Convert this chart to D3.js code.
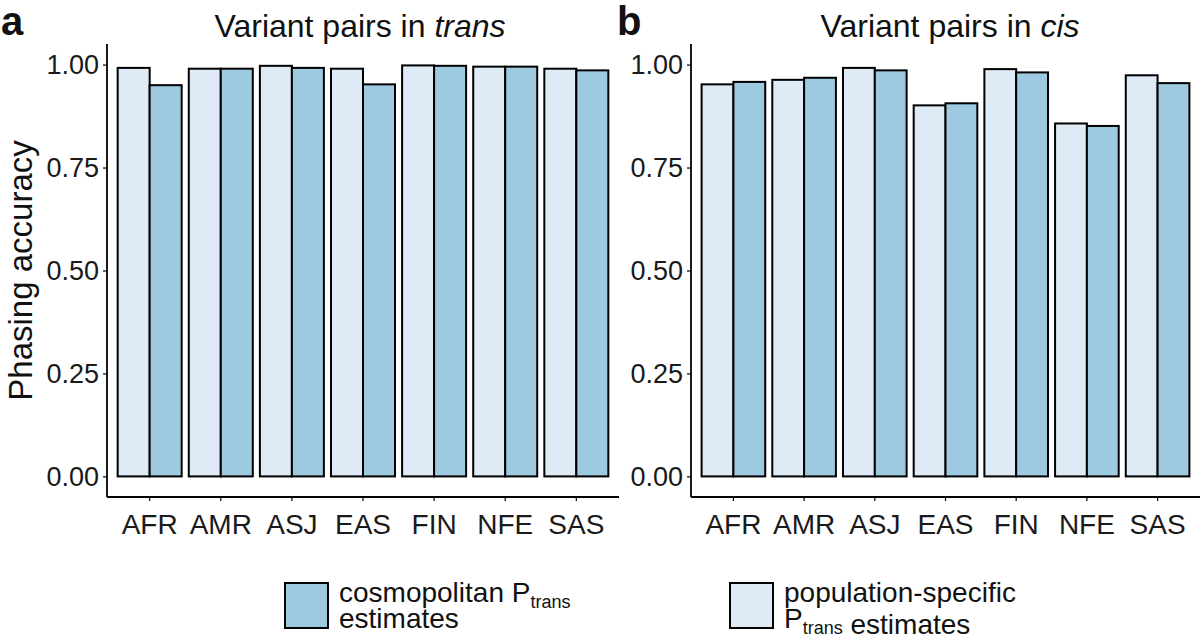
<!DOCTYPE html>
<html>
<head>
<meta charset="utf-8">
<script src="https://cdn.jsdelivr.net/npm/d3@7"></script>
<style>
  html, body { margin: 0; padding: 0; background: #fff; }
  svg { display: block; font-family: "Liberation Sans", Arial, sans-serif; }
</style>
</head>
<body>
<svg id="chart" width="1200" height="642"></svg>
<script>
// ---- data ----
const categories = ["AFR", "AMR", "ASJ", "EAS", "FIN", "NFE", "SAS"];
const series = ["population-specific", "cosmopolitan"];
const transPopSpecific = [0.992, 0.990, 0.997, 0.990, 0.998, 0.995, 0.990];
const transCosmopolitan = [0.950, 0.990, 0.992, 0.952, 0.997, 0.995, 0.986];
const cisPopSpecific = [0.952, 0.963, 0.992, 0.901, 0.989, 0.857, 0.974];
const cisCosmopolitan = [0.958, 0.968, 0.986, 0.906, 0.981, 0.851, 0.955];
const yTicks = [0, 0.25, 0.5, 0.75, 1.0];
const yTickLabels = ["0.00", "0.25", "0.50", "0.75", "1.00"];

const colors = { "population-specific": "#deebf7", "cosmopolitan": "#9ecae1" };

const svg = d3.select("#chart");

const panels = [
  { label: "a", title: "Variant pairs in ", italic: "trans", x0: 107, x1: 619, titleX: 360,
    pop: transPopSpecific, cos: transCosmopolitan },
  { label: "b", title: "Variant pairs in ", italic: "cis", x0: 691, x1: 1200, titleX: 950,
    pop: cisPopSpecific, cos: cisCosmopolitan }
];

const yBottom = 497, yTop = 44;
const y = d3.scaleLinear().domain([-0.05, 1.05]).range([yBottom, yTop]);

panels.forEach(p => {
  const g = svg.append("g");
  const x = d3.scaleBand().domain(categories).range([p.x0, p.x1])
    .paddingInner(0.1).paddingOuter(0.15);
  const xs = d3.scaleBand().domain(series).range([0, x.bandwidth()]);

  const rows = categories.map((c, i) => ({ c, vals: [
    { s: "population-specific", v: p.pop[i] },
    { s: "cosmopolitan", v: p.cos[i] }
  ]}));
  g.selectAll("g.grp").data(rows).join("g")
    .attr("transform", d => `translate(${x(d.c)},0)`)
    .selectAll("rect").data(d => d.vals).join("rect")
    .attr("x", d => xs(d.s))
    .attr("width", xs.bandwidth())
    .attr("y", d => y(d.v))
    .attr("height", d => y(0) - y(d.v))
    .attr("fill", d => colors[d.s])
    .attr("stroke", "#000")
    .attr("stroke-width", 2);

  // y axis
  const yAxis = d3.axisLeft(y).tickValues(yTicks)
    .tickFormat((d, i) => yTickLabels[i]).tickSize(4).tickPadding(4);
  const ya = g.append("g").attr("transform", `translate(${p.x0},0)`).call(yAxis);
  ya.select(".domain").attr("d", `M0,${yTop}V${yBottom}`).attr("stroke-width", 1.8);
  ya.selectAll(".tick line").attr("stroke-width", 1.2);
  ya.selectAll(".tick text").attr("font-size", 27).attr("fill", "#1a1a1a")
    .attr("font-family", "Liberation Sans, Arial, sans-serif");

  // x axis
  const xAxis = d3.axisBottom(x).tickSize(4).tickPadding(13);
  const xa = g.append("g").attr("transform", `translate(0,${yBottom})`).call(xAxis);
  xa.select(".domain").attr("d", `M${p.x0},0H${p.x1}`).attr("stroke-width", 1.8);
  xa.selectAll(".tick line").attr("stroke-width", 1.2);
  xa.selectAll(".tick text").attr("font-size", 28).attr("fill", "#1a1a1a")
    .attr("font-family", "Liberation Sans, Arial, sans-serif");

  // title
  const t = svg.append("text").attr("x", p.titleX).attr("y", 37)
    .attr("text-anchor", "middle").attr("font-size", 32).attr("fill", "#111");
  t.append("tspan").text(p.title);
  t.append("tspan").attr("font-style", "italic").text(p.italic);

  // panel label
  svg.append("text").attr("x", p.label === "a" ? 1 : 617).attr("y", 35)
    .attr("font-size", 40).attr("font-weight", "bold").attr("fill", "#111")
    .text(p.label);
});

// y axis title
svg.append("text")
  .attr("transform", `translate(32,${(yTop + yBottom) / 2}) rotate(-90)`)
  .attr("text-anchor", "middle").attr("font-size", 33).attr("fill", "#111")
  .text("Phasing accuracy");

// legends
function legend(x0, fill, lines) {
  const g = svg.append("g");
  g.append("rect").attr("x", x0).attr("y", 583).attr("width", 43).attr("height", 45)
    .attr("fill", fill).attr("stroke", "#000").attr("stroke-width", 2);
  lines.forEach((ln, i) => {
    const t = g.append("text").attr("x", x0 + 54).attr("y", 602 + i * 26)
      .attr("font-size", 28).attr("fill", "#111");
    ln.forEach(seg => {
      if (seg.sub) {
        t.append("tspan").attr("font-size", 18).attr("dy", 6).text(seg.sub);
        t.append("tspan").attr("dy", -6).text("");
      } else {
        t.append("tspan").text(seg.t);
      }
    });
  });
}
legend(285, colors["cosmopolitan"], [
  [{ t: "cosmopolitan P" }, { sub: "trans" }],
  [{ t: "estimates" }]
]);
legend(730, colors["population-specific"], [
  [{ t: "population-specific" }],
  [{ t: "P" }, { sub: "trans" }, { t: " estimates" }]
]);
</script>
</body>
</html>
